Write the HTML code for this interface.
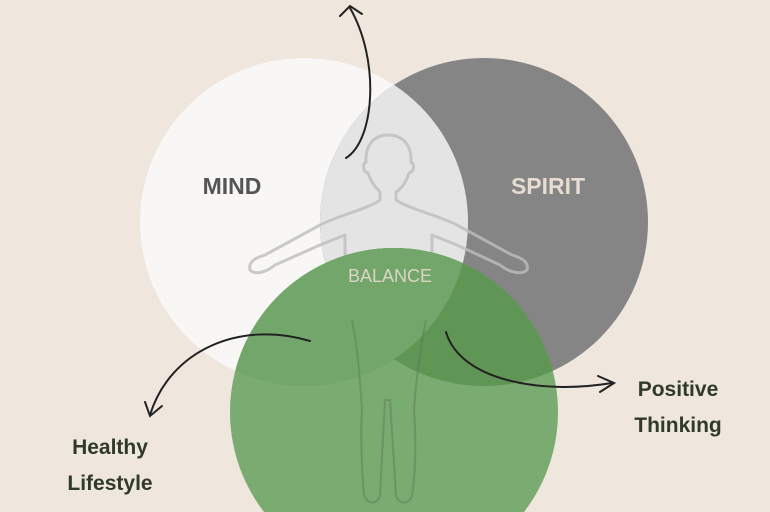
<!DOCTYPE html>
<html><head><style>
html,body{margin:0;padding:0;background:#efe6dd;width:770px;height:512px;overflow:hidden;}
svg{display:block}
text{font-family:"Liberation Sans",sans-serif;font-weight:bold}
</style></head><body>
<svg width="770" height="512" viewBox="0 0 770 512">
<defs>
<clipPath id="cm"><circle cx="304" cy="222" r="164"/></clipPath>
<clipPath id="cs"><circle cx="484" cy="222" r="164"/></clipPath>
</defs>
<rect width="770" height="512" fill="#efe6dd"/>
<circle cx="304" cy="222" r="164" fill="#f8f7f6"/>
<circle cx="484" cy="222" r="164" fill="#858585"/>
<circle cx="484" cy="222" r="164" fill="#e4e4e4" clip-path="url(#cm)"/>
<g fill="none" stroke="#bdbdbd" stroke-width="3" stroke-linejoin="round" opacity="0.8">
<path d="M388 135 C372 135 365 148 366 162 C362 164 363 172 368 173 C371 183 378 190 380 192 L380 200 C370 208 340 215 320 225 L265 255 C255 258 248 262 250 270 C255 275 265 273 275 265 L320 245 L345 235 C345 260 345 290 352 320 C358 350 360 380 362 410 C360 440 362 470 364 495 C368 505 378 505 380 495 L385 400 L390 400 L396 495 C398 505 410 505 412 495 C416 470 416 440 414 410 C416 380 420 350 426 320 C432 290 432 260 432 235 L457 245 L500 265 C510 273 522 275 527 270 C529 262 522 258 512 255 L457 225 C437 215 407 208 396 200 L396 192 C400 190 406 183 409 173 C414 172 415 164 411 162 C412 148 405 135 388 135 Z"/>
</g>
<circle cx="394" cy="412" r="164" fill="#73a769" opacity="0.94"/>
<circle cx="394" cy="412" r="164" fill="#5f9656" clip-path="url(#cs)"/>
<g clip-path="url(#cm)"><circle cx="394" cy="412" r="164" fill="#72a66a"/></g>
<g fill="none" stroke="#5a6e55" stroke-width="2" opacity="0.35">
<path d="M352 320 C358 350 360 380 362 410 C360 440 362 470 364 495 C368 505 378 505 380 495 L385 400 L390 400 L396 495 C398 505 410 505 412 495 C416 470 416 440 414 410 C416 380 420 350 426 320"/>
</g>
<text x="232" y="194" font-size="23" fill="#555" text-anchor="middle">MIND</text>
<text x="548" y="194" font-size="23" fill="#e6dccf" text-anchor="middle">SPIRIT</text>
<text x="390" y="282" font-size="18" fill="#ddd4c6" text-anchor="middle" style="font-weight:normal">BALANCE</text>
<text x="110" y="454" font-size="21" fill="#2f3a2b" text-anchor="middle">Healthy</text>
<text x="110" y="490" font-size="21" fill="#2f3a2b" text-anchor="middle">Lifestyle</text>
<text x="678" y="396" font-size="21" fill="#2f3a2b" text-anchor="middle">Positive</text>
<text x="678" y="432" font-size="21" fill="#2f3a2b" text-anchor="middle">Thinking</text>
<g fill="none" stroke="#222" stroke-width="2" stroke-linecap="round">
<path d="M346 158 C375 140 380 60 350 8"/>
<path d="M340 16 L350 6 L362 14"/>
<path d="M310 341 C240 320 170 350 150 415"/>
<path d="M145 402 L150 416 L162 406"/>
<path d="M446 332 C460 380 540 395 612 383"/>
<path d="M598 376 L614 383 L600 392"/>
</g>
</svg>
</body></html>
